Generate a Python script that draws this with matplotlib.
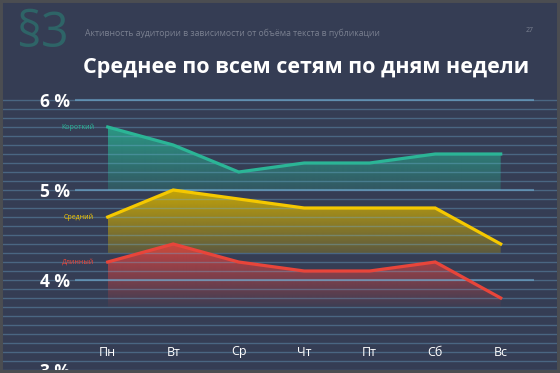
import numpy as np
import matplotlib
matplotlib.use('Agg')
import matplotlib.pyplot as plt
from matplotlib.patches import Rectangle
from matplotlib.colors import to_rgb

plt.rcParams['font.family'] = ['Open Sans', 'DejaVu Sans']

# data
days = ['Пн', 'Вт', 'Ср', 'Чт', 'Пт', 'Сб', 'Вс']
short = [5.7, 5.5, 5.2, 5.3, 5.3, 5.4, 5.4]
medium = [4.7, 5.0, 4.9, 4.8, 4.8, 4.8, 4.4]
long_ = [4.2, 4.4, 4.2, 4.1, 4.1, 4.2, 3.8]
series_names = ['Короткий', 'Средний', 'Длинный']
y_ticks = [3, 4, 5, 6]

bg = '#353d54'
W, H = 560, 373
fig = plt.figure(figsize=(W / 100, H / 100), dpi=100, facecolor=bg)
ax = fig.add_axes([0, 0, 1, 1])
ax.set_facecolor(bg)
ax.axis('off')

# pixel -> data mapping: Пн at 107.7px, 65.5px per day; 5% at 190px, 90px per %
px_x0, px_dx = 107.7, 65.5
px_y5, px_dy = 190, 90
ax.set_xlim(-px_x0 / px_dx, (W - px_x0) / px_dx)
ax.set_ylim(5 - (H - px_y5) / px_dy, 5 + px_y5 / px_dy)

x = np.arange(len(days))

# grid lines
grid_col = '#73b3d9'
for v in np.arange(30, 61) / 10:
    ax.axhline(v, color=grid_col, alpha=0.35, lw=1.0, zorder=3)
for v in y_ticks[1:]:
    ax.plot([-(px_x0 - 75) / px_dx, (534 - px_x0) / px_dx], [v, v],
            color=grid_col, alpha=0.55, lw=1.5, zorder=3, solid_capstyle='butt')

series = [(short, 5.0, '#2bb596', '#2aa88e', 0.85, 0.25),
          (medium, 4.3, '#f5c800', '#d4b000', 0.9, 0.25),
          (long_, 3.7, '#e8453a', '#d8433f', 0.9, 0.05)]

for (vals, base, lc, fc, a_top, a_bot), name in zip(series, series_names):
    top = max(vals)
    poly = ax.fill_between(x, vals, base, color='none', lw=0)
    n = 256
    grad = np.zeros((n, 1, 4))
    grad[:, 0, :3] = to_rgb(fc)
    grad[:, 0, 3] = np.linspace(a_top, a_bot, n)
    im = ax.imshow(grad, extent=[x[0], x[-1], base, top], origin='upper',
                   aspect='auto', interpolation='bilinear', zorder=2)
    im.set_clip_path(poly.get_paths()[0], transform=ax.transData)
    ax.plot(x, vals, color=lc, lw=2.3, zorder=4, solid_joinstyle='miter')
    ax.text(-(px_x0 - 94) / px_dx, vals[0], name, color=lc, fontsize=5,
            ha='right', va='center', zorder=5)

# y labels
for v in y_ticks:
    ax.text(-(px_x0 - 40) / px_dx, v - 0.02, f'{v} %', color='white', fontsize=12.5,
            fontweight='bold', ha='left', va='center', zorder=5)

# x labels
for i, d in enumerate(days):
    ax.text(i, 5 - (352 - px_y5) / px_dy, d, color='white', fontsize=9,
            ha='center', va='center', zorder=5)

# header
fig.text(16 / W, 1 - 34 / H, '§3', color='#2e6467', fontsize=35, ha='left', va='center')
fig.text(85 / W, 1 - 33 / H, 'Активность аудитории в зависимости от объёма текста в публикации',
         color='#7a8090', fontsize=6.2, ha='left', va='center')
fig.text(530 / W, 1 - 30 / H, '27', color='#7a8090', fontsize=5, ha='center', va='center')
title = fig.text(83 / W, 1 - 67 / H, 'Среднее по всем сетям по дням недели', color='white',
                 fontsize=20, fontweight='bold', ha='left', va='center',
                 family=['Liberation Sans Narrow', 'Open Sans', 'DejaVu Sans'])

# shrink title to the width it has in the original (83..531 px)
r = fig.canvas.get_renderer()
w = title.get_window_extent(r).width
if w > 448:
    title.set_fontsize(20 * 448 / w)

# frame
fig.patches.append(Rectangle((0, 0), 1, 1, transform=fig.transFigure, fill=False,
                             edgecolor='#4b4d51', lw=4.3, zorder=10))

fig.savefig('out.png', dpi=100, facecolor=bg)
